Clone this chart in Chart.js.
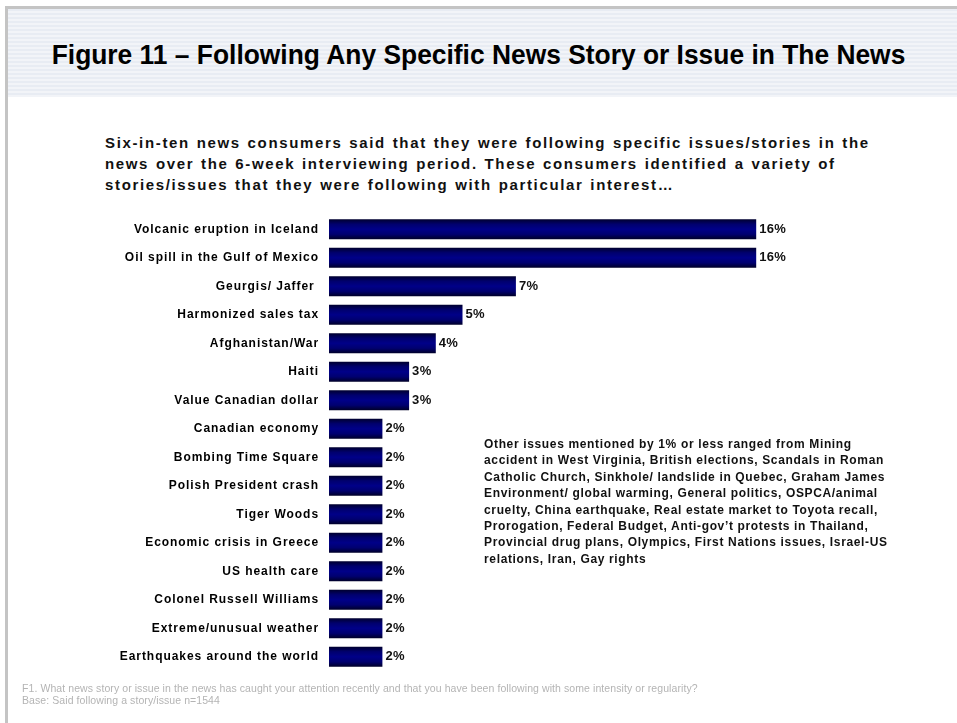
<!DOCTYPE html>
<html>
<head>
<meta charset="utf-8">
<script src="https://cdn.jsdelivr.net/npm/chart.js@4"></script>
<style>
  html, body { margin: 0; padding: 0; background: #fff; }
  #page { position: relative; width: 957px; height: 723px; overflow: hidden; font-family: "Liberation Sans", Arial, sans-serif; }
  #frameTop { position: absolute; left: 5px; top: 6px; right: 0; height: 3px; background: #c4c4c4; }
  #frameLeft { position: absolute; left: 5px; top: 6px; width: 3px; bottom: 0; background: #c4c4c4; }
  #header { position: absolute; left: 8px; top: 9px; right: 0; height: 88px;
    background: repeating-linear-gradient(to bottom, #e8ecf3 0px, #e8ecf3 2px, #f2f4f8 2px, #f2f4f8 4px); }
  #title { position: absolute; left: 0; width: 957px; top: 40px; text-align: center; transform: scaleX(0.977);
    font-weight: bold; font-size: 27px; color: #000; }
  #subtitle { position: absolute; left: 105px; top: 132px; font-weight: bold; font-size: 15px; line-height: 21px;
    letter-spacing: 1.65px; word-spacing: 1px; color: #111; }
  #note { position: absolute; left: 484px; top: 436px; font-weight: bold; font-size: 12px; line-height: 16.4px;
    letter-spacing: 0.65px; color: #111; }
  #footer { position: absolute; left: 22px; top: 682px; font-size: 10.5px; line-height: 12px; letter-spacing: 0.08px; color: #b4b4b4; white-space: nowrap; }
  canvas { position: absolute; left: 0; top: 0; }
</style>
</head>
<body>
<div id="page">
  <div id="header"></div>
  <div id="frameTop"></div>
  <div id="frameLeft"></div>
  <div id="title">Figure 11 – Following Any Specific News Story or Issue in The News</div>
  <div id="subtitle">Six-in-ten news consumers said that they were following specific issues/stories in the<br>news over the 6-week interviewing period. These consumers identified a variety of<br>stories/issues that they were following with particular interest…</div>
  <canvas id="chart" width="957" height="723"></canvas>
  <div id="note">Other issues mentioned by 1% or less ranged from Mining<br>accident in West Virginia, British elections, Scandals in Roman<br>Catholic Church, Sinkhole/ landslide in Quebec, Graham James<br>Environment/ global warming, General politics, OSPCA/animal<br>cruelty, China earthquake, Real estate market to Toyota recall,<br>Prorogation, Federal Budget, Anti-gov’t protests in Thailand,<br>Provincial drug plans, Olympics, First Nations issues, Israel-US<br>relations, Iran, Gay rights</div>
  <div id="footer">F1. What news story or issue in the news has caught your attention recently and that you have been following with some intensity or regularity?<br>Base: Said following a story/issue n=1544</div>
</div>
<script>
const stories = [
  "Volcanic eruption in Iceland",
  "Oil spill in the Gulf of Mexico",
  "Geurgis/ Jaffer ",
  "Harmonized sales tax",
  "Afghanistan/War",
  "Haiti",
  "Value Canadian dollar",
  "Canadian economy",
  "Bombing Time Square",
  "Polish President crash",
  "Tiger Woods",
  "Economic crisis in Greece",
  "US health care",
  "Colonel Russell Williams",
  "Extreme/unusual weather",
  "Earthquakes around the world"
];
const following = [16, 16, 7, 5, 4, 3, 3, 2, 2, 2, 2, 2, 2, 2, 2, 2];

// wider tracking for all canvas text (labels and values)
const tracking = {
  id: "tracking",
  beforeUpdate(chart) { chart.ctx.letterSpacing = "0.95px"; },
  beforeDraw(chart) { chart.ctx.letterSpacing = "0.95px"; }
};

// shaded navy bars: dark at the edges, brighter in the middle
const barShading = {
  id: "barShading",
  beforeDatasetsDraw(chart) {
    const ctx = chart.ctx;
    chart.getDatasetMeta(0).data.forEach(bar => {
      const top = bar.y - bar.height / 2;
      const g = ctx.createLinearGradient(0, top, 0, top + bar.height);
      g.addColorStop(0, "#00002e");
      g.addColorStop(0.25, "#00006e");
      g.addColorStop(0.5, "#000088");
      g.addColorStop(0.75, "#000070");
      g.addColorStop(1, "#000028");
      bar.options = Object.assign({}, bar.options, { backgroundColor: g });
    });
  }
};

// percentage written just past the end of each bar
const valueLabels = {
  id: "valueLabels",
  afterDatasetsDraw(chart) {
    const ctx = chart.ctx;
    ctx.save();
    ctx.letterSpacing = "0.3px";
    ctx.font = "bold 13px 'Liberation Sans', Arial, sans-serif";
    ctx.fillStyle = "#111";
    ctx.textBaseline = "middle";
    ctx.textAlign = "left";
    chart.getDatasetMeta(0).data.forEach((bar, i) => {
      ctx.fillText(following[i] + "%", bar.x + 3, bar.y);
    });
    ctx.restore();
  }
};

new Chart(document.getElementById("chart"), {
  type: "bar",
  data: {
    labels: stories,
    datasets: [{
      data: following,
      backgroundColor: "#000080",
      borderWidth: 0,
      categoryPercentage: 1,
      barPercentage: 0.7
    }]
  },
  options: {
    indexAxis: "y",
    responsive: false,
    animation: false,
    layout: { padding: { top: 215, bottom: 52, left: 0, right: 94 } },
    plugins: { legend: { display: false }, tooltip: { enabled: false } },
    scales: {
      x: { display: false, min: 0, max: 20 },
      y: {
        grid: { display: false, drawTicks: false },
        border: { display: false },
        afterFit: s => { s.width = 329; },
        ticks: {
          padding: 10,
          color: "#000",
          font: { family: "'Liberation Sans', Arial, sans-serif", weight: "bold", size: 12 }
        }
      }
    }
  },
  plugins: [tracking, barShading, valueLabels]
});
</script>
</body>
</html>
